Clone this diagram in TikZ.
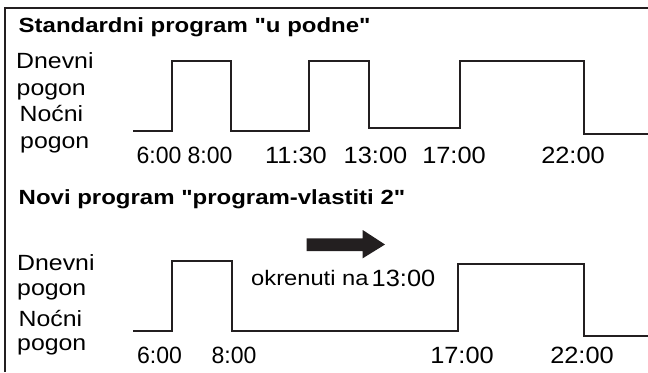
\documentclass[tikz,border=0pt]{standalone}
\usepackage{fontspec}
\setmainfont{Liberation Sans}
\newfontfamily\titlefont[FakeStretch=1.17]{Liberation Sans Bold}
\newfontfamily\labelfont[FakeStretch=1.13]{Liberation Sans}
\newfontfamily\timefont[FakeStretch=1.08]{Liberation Sans}
\newfontfamily\timefontn[FakeStretch=0.98]{Liberation Sans}
\definecolor{ink}{HTML}{231F20}
\tikzset{
  wave/.style={draw=ink, line width=2.4bp, line join=miter},
  frameline/.style={draw=ink, line width=1.3bp},
  ttl/.style={inner sep=0pt, anchor=base west, font=\titlefont\fontsize{20.5bp}{24bp}\selectfont},
  lbl/.style={inner sep=0pt, anchor=base west, font=\labelfont\fontsize{22bp}{26bp}\selectfont},
  tm/.style={inner sep=0pt, anchor=base, font=\timefont\fontsize{23.5bp}{27bp}\selectfont},
  tmn/.style={inner sep=0pt, anchor=base, font=\timefontn\fontsize{23.5bp}{27bp}\selectfont},
  bigarrow/.style={fill=ink, draw=none}
}
\begin{document}
\begin{tikzpicture}[x=1bp,y=-1bp]
\useasboundingbox (0,0) rectangle (648,372);
% frame
\draw[frameline] (5,372) -- (5,8) -- (648,8);

% ---- panel 1 ----
\node[ttl] (t1) at (18.5,32) {Standardni program "u podne"};
\node[lbl] (d1) at (16,68.3) {Dnevni};
\node[lbl] (p1) at (16.5,95) {pogon};
\node[lbl] (n1) at (19.5,121.7) {Noćni};
\node[lbl] (q1) at (20,148.3) {pogon};

\draw[wave] (133,131) -- (172,131) -- (172,61) -- (231,61) -- (231,131)
  -- (309,131) -- (309,61) -- (369,61) -- (369,128) -- (460,128)
  -- (460,61) -- (584,61) -- (584,134) -- (648,134);

\node[tmn] (a1) at (159,163) {6:00};
\node[tmn] (a2) at (210,163) {8:00};
\node[tm] (a3) at (296,163) {11:30};
\node[tm] (a4) at (375.5,163) {13:00};
\node[tm] (a5) at (454,163) {17:00};
\node[tm] (a6) at (573,163) {22:00};

% ---- panel 2 ----
\node[ttl] (t2) at (18.5,204.5) {Novi program "program-vlastiti 2"};
\node[lbl] (d2) at (17,270.7) {Dnevni};
\node[lbl] (p2) at (17,295) {pogon};
\node[lbl] (n2) at (18.5,326.7) {Noćni};
\node[lbl] (q2) at (17,350) {pogon};

\draw[wave] (133,331) -- (172,331) -- (172,261) -- (232,261) -- (232,331)
  -- (458,331) -- (458,264) -- (584,264) -- (584,336) -- (648,336);

\fill[bigarrow] (306.7,238.3) -- (362.7,238.3) -- (362.7,230) -- (385,244.5)
  -- (362.7,258.3) -- (362.7,251) -- (306.7,251) -- cycle;

\node[lbl, font=\labelfont\fontsize{21bp}{25bp}\selectfont] (ok) at (251,285) {okrenuti na};
\node[tm] (b0) at (403.5,286.7) {13:00};

\node[tmn] (b1) at (159.5,363) {6:00};
\node[tmn] (b2) at (234,363) {8:00};
\node[tm] (b3) at (462,363) {17:00};
\node[tm] (b4) at (582,363) {22:00};
\end{tikzpicture}
\end{document}
